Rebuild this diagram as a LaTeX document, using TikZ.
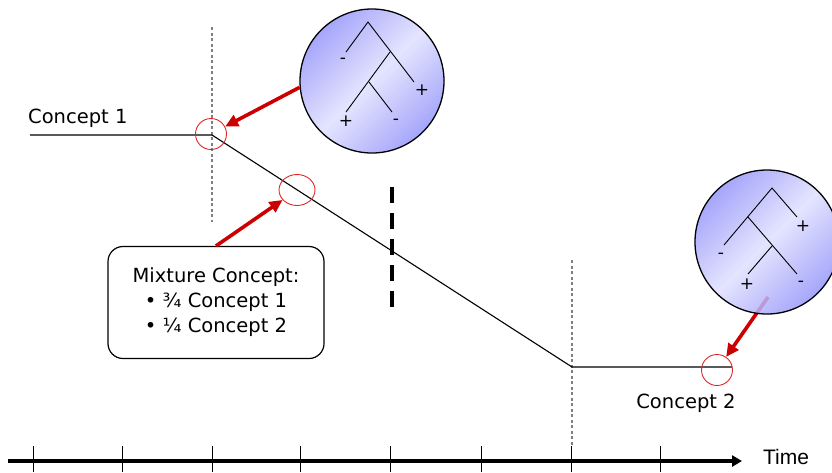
\documentclass[tikz,border=0pt]{standalone}
\usepackage{fontspec}
\setmainfont{DejaVu Sans}
\newfontfamily\timefont{Liberation Sans}
\usetikzlibrary{arrows.meta,shapes.geometric,backgrounds}

\definecolor{arrowred}{RGB}{204,0,0}
\definecolor{ringred}{RGB}{222,40,40}
\definecolor{blobdark}{RGB}{150,150,250}
\definecolor{bloblight}{RGB}{224,224,255}

\tikzset{
  ring/.style={draw=ringred, line width=0.9pt, ellipse, inner sep=0pt},
  pointer/.style={draw=arrowred, line width=3.6pt, -{Triangle[length=13pt,width=12pt]}},
  blob/.style={circle, draw=black, line width=1.3pt, top color=blobdark, bottom color=blobdark,
    middle color=bloblight, shading angle=45, minimum size=144pt, inner sep=0pt, fill opacity=0.85},
  guide/.style={gray, line width=1.2pt, dash pattern=on 3pt off 2.5pt},
  branch/.style={line width=0.9pt},
  sign/.style={font=\fontsize{17}{17}\selectfont, inner sep=0pt},
  label/.style={font=\fontsize{19.5}{25}\selectfont, inner sep=0pt},
}

\begin{document}
\begin{tikzpicture}[x=1pt,y=-1pt]
  \useasboundingbox (0,0) rectangle (832,472);

  % concept drift line
  \coordinate (startA) at (30,135);
  \coordinate (kneeA) at (212,135);
  \coordinate (kneeB) at (572,367);
  \coordinate (endB) at (732,367);
  \draw[guide] (212,27) -- (212,222);
  \draw[guide] (572,260) -- (572,446);
  \draw[line width=1.1pt] (startA) -- (kneeA) -- (kneeB) -- (endB);
  \draw[line width=4pt, dash pattern=on 16pt off 10pt] (392,187) -- (392,311);

  \node[label, anchor=base west] (conceptA) at (28,123) {Concept 1};
  \node[label] (conceptB) at (686,403) {Concept 2};

  % marked points
  \node[ring, minimum width=31pt, minimum height=31pt] (ringA) at (211,134) {};
  \node[ring, minimum width=36pt, minimum height=31pt] (ringB) at (297,190) {};
  \node[ring, minimum width=31pt, minimum height=31pt] (ringC) at (717,370) {};

  % trees
  \node[blob] (bigA) at (372,81) {};
  \node[blob] (bigB) at (767,242) {};
  \draw[branch] (346,52) -- (368,22) -- (414,82);
  \draw[branch] (390,52) -- (346,112);
  \draw[branch] (369,82) -- (392,112);
  \node[sign] (signA1) at (343,61) {-};
  \node[sign] (signA2) at (422,90) {+};
  \node[sign] (signA3) at (346,121) {+};
  \node[sign] (signA4) at (396,122) {-};
  \draw[branch] (724,245) -- (772,188) -- (797,217);
  \draw[branch] (748,217) -- (797,274);
  \draw[branch] (772,246) -- (748,274);
  \node[sign] (signB1) at (803,226) {+};
  \node[sign] (signB2) at (721,256) {-};
  \node[sign] (signB3) at (747,284) {+};
  \node[sign] (signB4) at (801,284) {-};

  \node[draw, line width=1.2pt, rounded corners=15pt, minimum width=216pt, minimum height=112pt,
    label, align=center] (mix) at (216,302.5)
    {Mixture Concept:\\ \textbullet\ ¾ Concept 1\\ \textbullet\ ¼ Concept 2};

  \coordinate (tailC) at (768,297);
  \draw[pointer] (bigA.185) -- (ringA);
  \draw[pointer] (mix.north) -- (ringB);
  \begin{scope}[on background layer]
    \draw[pointer] (tailC) -- (ringC);
  \end{scope}

  % time axis
  \coordinate (axL) at (8,461);
  \coordinate (axR) at (742,461);
  \draw[line width=3.5pt, -{Triangle[length=10pt,width=11pt]}] (axL) -- (axR);
  \foreach \x in {33,122,212,300,390,481,571,660}
    \draw[line width=0.8pt] (\x,446) -- (\x,472);
  \node[font=\timefont\fontsize{21}{21}\selectfont, inner sep=0pt] (timeL) at (786,457) {Time};
\end{tikzpicture}
\end{document}
